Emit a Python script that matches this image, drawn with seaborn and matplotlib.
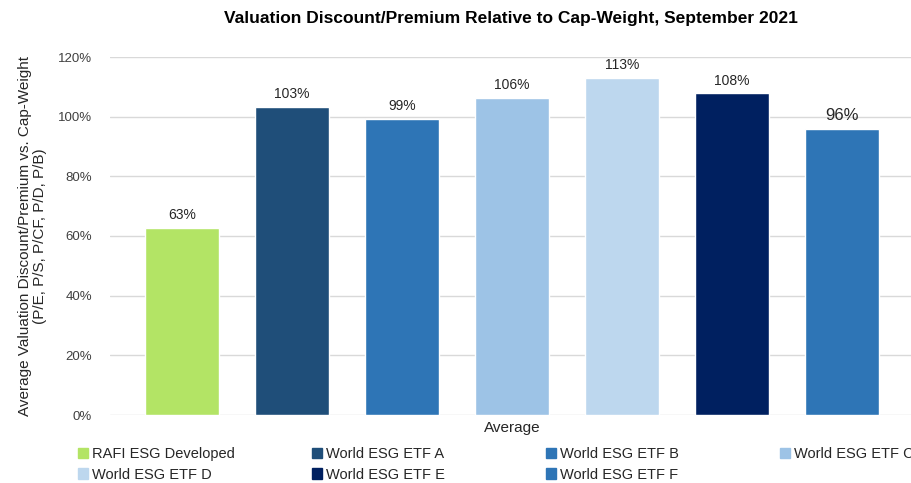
import matplotlib
matplotlib.use("Agg")
import matplotlib.pyplot as plt
import matplotlib.patches as mpatches
import pandas as pd
import seaborn as sns

# values (percent of cap-weight valuation)
series = ["RAFI ESG Developed", "World ESG ETF A", "World ESG ETF B",
          "World ESG ETF C", "World ESG ETF D", "World ESG ETF E",
          "World ESG ETF F"]
values = [62.8, 103.4, 99.3, 106.3, 113.1, 107.9, 95.9]
colors = ["#B3E465", "#1F4E79", "#2E75B6", "#9DC3E6", "#BDD7EE",
          "#002060", "#2E75B6"]
category = "Average"
yticks = [0, 20, 40, 60, 80, 100, 120]

df = pd.DataFrame({"cat": [category] * len(series), "series": series,
                   "value": values})

sns.set_theme(style="white")
plt.rcParams["font.family"] = ["Liberation Sans", "DejaVu Sans"]

W, H = 911, 483
fig = plt.figure(figsize=(W / 100, H / 100), dpi=100)
ax = fig.add_axes([110 / W, 1 - 415 / H, 804 / W, (415 - 57) / H])

sns.barplot(data=df, x="cat", y="value", hue="series", hue_order=series,
            palette=colors, width=0.958, gap=0.33, legend=False,
            saturation=1, ax=ax)

ax.set_xlim(-0.5, 0.5)
ax.set_ylim(0, 120)
ax.set_yticks(yticks)
ax.set_yticklabels([f"{t}%" for t in yticks], fontsize=9.5, color="#404040")
ax.tick_params(axis="y", length=0, pad=13)
ax.tick_params(axis="x", length=0, pad=4, labelsize=11, labelcolor="#262626")
ax.grid(axis="y", color="#D9D9D9", linewidth=1)
ax.set_axisbelow(True)
for s in ax.spines.values():
    s.set_visible(False)
ax.set_xlabel("")
ax.set_ylabel("Average Valuation Discount/Premium vs. Cap-Weight\n"
              "(P/E, P/S, P/CF, P/D, P/B)", fontsize=11, color="#262626",
              linespacing=1.1, labelpad=8)

for i, cont in enumerate(ax.containers):
    fs = 12 if i == len(ax.containers) - 1 else 10
    ax.bar_label(cont, labels=[f"{v:.0f}%" for v in cont.datavalues],
                 padding=4, fontsize=fs, color="#262626")

fig.suptitle("Valuation Discount/Premium Relative to Cap-Weight, September 2021",
             fontsize=12.5, fontweight="bold", x=511 / W, y=1 - 11 / H,
             va="top", color="#000000")

# legend: 4 equally spaced columns, 2 rows
col_x = [78, 312, 546, 780]
for c in range(4):
    idx = [i for i in (c, c + 4) if i < len(series)]
    handles = [mpatches.Patch(color=colors[i], label=series[i]) for i in idx]
    leg = fig.legend(handles=handles, loc="upper left",
                     bbox_to_anchor=(col_x[c] / W, 1 - 447 / H),
                     frameon=False, fontsize=10.5, borderpad=0,
                     borderaxespad=0, handlelength=0.7, handleheight=0.7,
                     handletextpad=0.25, labelspacing=0.45)
    for t in leg.get_texts():
        t.set_color("#262626")

fig.savefig("out.png", dpi=100)
